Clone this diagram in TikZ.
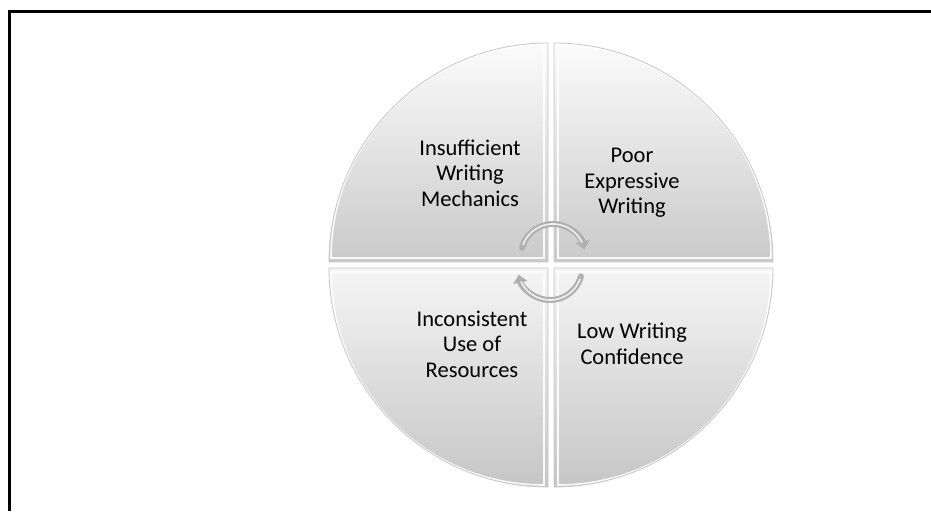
\documentclass[tikz,border=0pt]{standalone}
\usepackage{fontspec}
\setmainfont{Carlito}
\usetikzlibrary{arrows.meta}
\begin{document}
\begin{tikzpicture}[x=1pt,y=1pt,
  quad/.style={draw=gray!45, line width=0.8pt},
  bevel/.style={draw=white, line width=1.6pt, opacity=0.9},
  lbl/.style={align=center, font=\fontsize{22.5}{25.5}\selectfont, text=black, inner sep=0pt},
  cyc/.style={draw=gray!62, line width=6pt, line cap=round},
  cycin/.style={draw=gray!12, line width=1.6pt}
]
\useasboundingbox (0,0) rectangle (931,511);
% frame
\draw[line width=3pt] (9.5,0) -- (9.5,499.5) -- (931,499.5);
% quadrants
\def\R{219}
\shade[top color=gray!3, bottom color=gray!42]
  (548,249) -- ++(180:\R) arc[start angle=180, end angle=90, radius=\R] -- cycle;
\shade[top color=gray!3, bottom color=gray!42]
  (554,249) -- ++(90:\R) arc[start angle=90, end angle=0, radius=\R] -- cycle;
\shade[top color=gray!8, bottom color=gray!45]
  (548,243) -- ++(270:\R) arc[start angle=270, end angle=180, radius=\R] -- cycle;
\shade[top color=gray!8, bottom color=gray!45]
  (554,243) -- ++(0:\R) arc[start angle=0, end angle=-90, radius=\R] -- cycle;
% bevel highlights
\def\r{213}
\draw[bevel] (544,253) -- ++(180:\r) arc[start angle=180, end angle=90, radius=\r] -- cycle;
\draw[bevel] (558,253) -- ++(90:\r) arc[start angle=90, end angle=0, radius=\r] -- cycle;
\draw[bevel] (544,239) -- ++(270:\r) arc[start angle=270, end angle=180, radius=\r] -- cycle;
\draw[bevel] (558,239) -- ++(0:\r) arc[start angle=0, end angle=-90, radius=\r] -- cycle;
% outer edges
\draw[quad] (548,249) -- ++(180:\R) arc[start angle=180, end angle=90, radius=\R] -- cycle;
\draw[quad] (554,249) -- ++(90:\R) arc[start angle=90, end angle=0, radius=\R] -- cycle;
\draw[quad] (548,243) -- ++(270:\R) arc[start angle=270, end angle=180, radius=\R] -- cycle;
\draw[quad] (554,243) -- ++(0:\R) arc[start angle=0, end angle=-90, radius=\R] -- cycle;
% labels
\node[lbl] (tl) at (470,338) {Insufficient\\Writing\\Mechanics};
\node[lbl] (tr) at (632,328) {Poor\\Expressive\\Writing};
\node[lbl] (bl) at (472,167) {Inconsistent\\Use of\\Resources};
\node[lbl] (br) at (632,167) {Low Writing\\Confidence};
% cycle arrows
\draw[cyc, -{Triangle[length=8pt,width=14pt]}] (553,255) ++(165:32) arc[start angle=165, end angle=12, radius=32];
\draw[cycin] (553,255) ++(160:32) arc[start angle=160, end angle=25, radius=32];
\draw[cyc, -{Triangle[length=8pt,width=14pt]}] (550,243) ++(-15:32) arc[start angle=-15, end angle=-168, radius=32];
\draw[cycin] (550,243) ++(-20:32) arc[start angle=-20, end angle=-155, radius=32];
\end{tikzpicture}
\end{document}
